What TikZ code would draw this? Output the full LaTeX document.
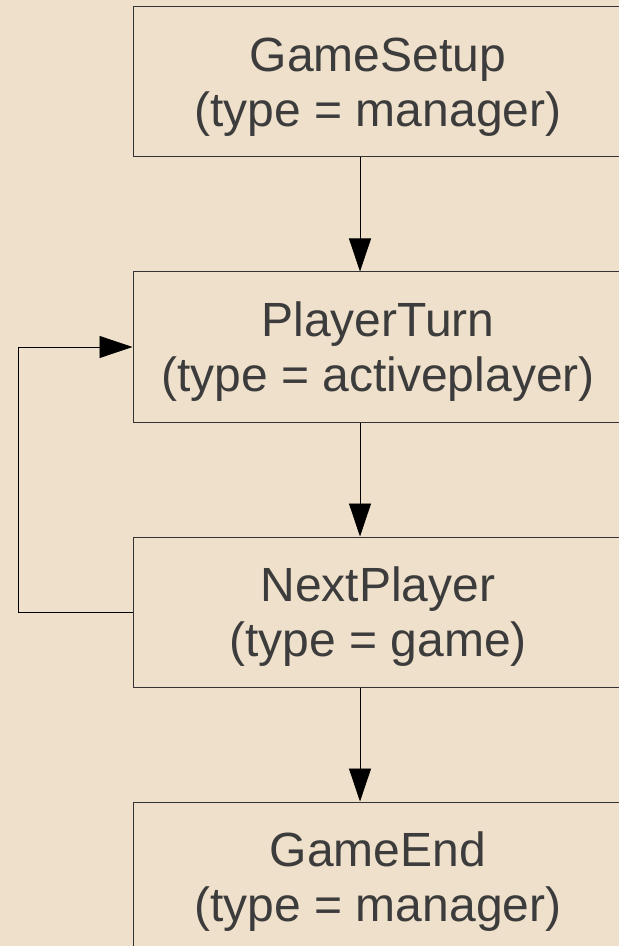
\documentclass[tikz,border=0pt]{standalone}
\usepackage{fontspec}
\setmainfont{Liberation Sans}
\usetikzlibrary{arrows.meta,positioning}
\definecolor{woodbg}{RGB}{239,224,203}
\definecolor{labelgray}{RGB}{60,60,60}

\begin{document}
\begin{tikzpicture}
[
x=0.5pt, y=-0.5pt
, >={Triangle[length=16.5pt,width=11pt]}
, every node/.style={font=\fontsize{24}{27.5}\selectfont, text=labelgray, align=center}
, state/.style={draw=black!80, line width=0.5pt, minimum width=245pt, minimum height=75pt, inner sep=0pt, text depth=0pt}
]

% background
\useasboundingbox (0,0) rectangle (619,946);
\clip (0,0) rectangle (619,946);
\fill[woodbg] (0,0) rectangle (619,946);

% states
\node[state] (setup) at (378,82) {GameSetup\\(type = manager)};
\node[state, below=57pt of setup] (turn) {PlayerTurn\\(type = activeplayer)};
\node[state, below=57pt of turn] (next) {NextPlayer\\(type = game)};
\node[state, below=57pt of next] (end) {GameEnd\\(type = manager)};

% transitions
\draw[->] ([xshift=-9pt]setup.south) -- ([xshift=-9pt]turn.north);
\draw[->] ([xshift=-9pt]turn.south) -- ([xshift=-9pt]next.north);
\draw[->] ([xshift=-9pt]next.south) -- ([xshift=-9pt]end.north);

% loop back
\draw[->] (next.west) -- ++(-57pt,0) |- (turn.west);

\end{tikzpicture}
\end{document}
